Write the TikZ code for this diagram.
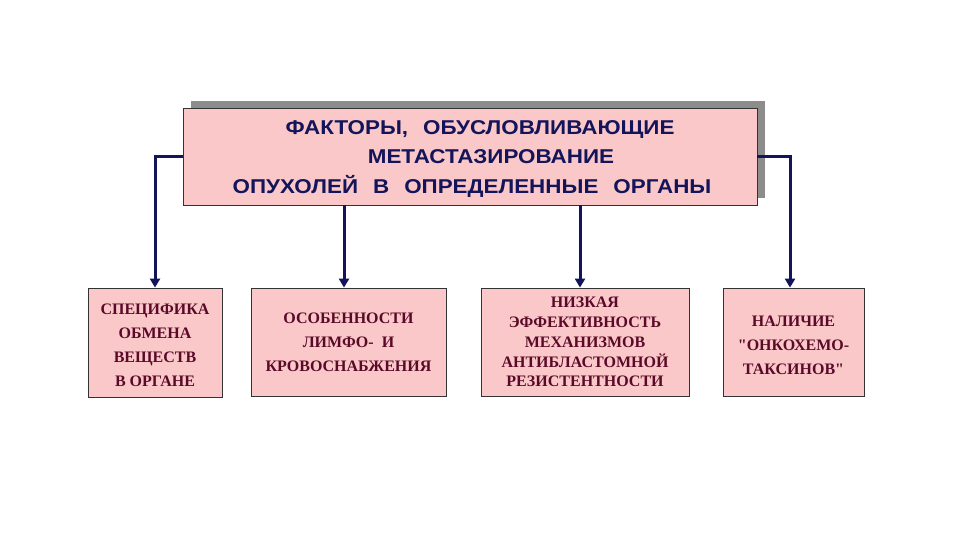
\documentclass[tikz,border=0pt]{standalone}
\usepackage{fontspec}
\setmainfont{Liberation Serif}[Ligatures=TeXOff]
\newfontfamily\titlefont{Liberation Sans}[FakeStretch=1.12]
\usetikzlibrary{arrows.meta}
\definecolor{boxfill}{HTML}{FAC8C8}
\definecolor{navy}{HTML}{14145A}
\definecolor{maroon}{HTML}{5A0A28}
\definecolor{shadowgray}{HTML}{8C8C8C}
\tikzset{
  topbox/.style={draw=black!80, line width=0.8pt, fill=boxfill, minimum width=574pt, minimum height=97pt, inner sep=0pt},
  lowbox/.style={draw=black!80, line width=0.8pt, fill=boxfill, inner sep=0pt},
  lowtext/.style={inner sep=0pt, align=center, text=maroon, font=\bfseries\fontsize{16}{24}\selectfont},
  conn/.style={draw=navy, line width=3pt, -{Triangle[length=9pt,width=10pt]}},
  titleline/.style={text=navy, font=\titlefont\bfseries\fontsize{20}{21}\selectfont, inner sep=0pt}
}
\newcommand{\gap}{\hspace{0.75em}}
\begin{document}
\begin{tikzpicture}[x=1pt,y=-1pt]
\useasboundingbox (0,0) rectangle (960,540);
\fill[white] (0,0) rectangle (960,540);
% shadow
\fill[shadowgray] (191,101) rectangle (765,198);
\node[topbox] (top) at (470,156.5) {};
\node[titleline] (t1) at (480,130) {ФАКТОРЫ,\gap ОБУСЛОВЛИВАЮЩИЕ};
\node[titleline] (t2) at (491,157) {МЕТАСТАЗИРОВАНИЕ};
\node[titleline] (t3) at (472,186) {ОПУХОЛЕЙ\gap В\gap ОПРЕДЕЛЕННЫЕ\gap ОРГАНЫ};
% lower boxes
\node[lowbox, minimum width=134pt, minimum height=109pt] (b1) at (155,342.5) {};
\node[lowtext] (b1t) at ([yshift=-3pt]b1.center) {СПЕЦИФИКА\\ОБМЕНА\\ВЕЩЕСТВ\\В ОРГАНЕ};
\node[lowbox, minimum width=195pt, minimum height=108pt] (b2) at (348.5,342) {};
\node[lowtext] (b2t) at ([yshift=-0.5pt]b2.center) {ОСОБЕННОСТИ\\ЛИМФО-\ \ И\\КРОВОСНАБЖЕНИЯ};
\node[lowbox, minimum width=208pt, minimum height=108pt] (b3) at (585,342) {};
\node[lowtext, font=\bfseries\fontsize{16}{19.8}\selectfont] (b3t) at (b3.center) {НИЗКАЯ\\ЭФФЕКТИВНОСТЬ\\МЕХАНИЗМОВ\\АНТИБЛАСТОМНОЙ\\РЕЗИСТЕНТНОСТИ};
\node[lowbox, minimum width=141pt, minimum height=108pt] (b4) at (793.5,342) {};
\node[lowtext] (b4t) at ([yshift=-3pt]b4.center) {НАЛИЧИЕ\\"ОНКОХЕМО-\\ТАКСИНОВ"};
% connectors
\coordinate (lc) at (155,157);
\coordinate (rc) at (790,157);
\draw[conn] (top.west |- lc) -- (lc) -- (b1.north);
\draw[conn] (top.east |- rc) -- (rc) -- (rc |- b4.north);
\draw[conn] (top.south -| 344,0) -- (344,0 |- b2.north);
\draw[conn] (top.south -| 580,0) -- (580,0 |- b3.north);
\end{tikzpicture}
\end{document}
